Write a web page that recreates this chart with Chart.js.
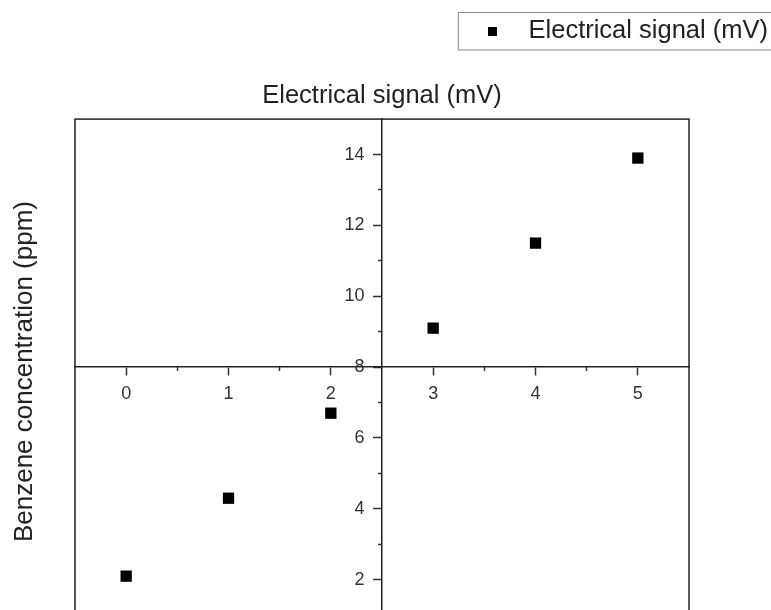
<!DOCTYPE html>
<html>
<head>
<meta charset="utf-8">
<script src="https://cdn.jsdelivr.net/npm/chart.js@4.4.1/dist/chart.umd.min.js"></script>
<style>
  html, body { margin: 0; padding: 0; background: #fff; overflow: hidden; }
  #wrap { width: 771px; height: 644px; }
</style>
</head>
<body>
<div id="wrap"><canvas id="signalChart"></canvas></div>
<script>
// values
const signalMv = [0, 1, 2, 3, 4, 5];
const benzenePpm = [2.1, 4.3, 6.7, 9.1, 11.5, 13.9];
const xTicks = [0, 1, 2, 3, 4, 5];
const xMinorTicks = [0.5, 1.5, 3.5, 4.5];
const yTicks = [2, 4, 6, 8, 10, 12, 14];
const yMinorTicks = [1, 3, 5, 7, 9, 11, 13];

Chart.defaults.font.family = "'Liberation Sans', Arial, sans-serif";
Chart.defaults.color = "#222";

// little black square for the legend
const legendMark = document.createElement("canvas");
legendMark.width = 9;
legendMark.height = 9;
legendMark.getContext("2d").fillRect(0, 0, 9, 9);

const setTicks = list => scale => { scale.ticks = list.map(v => ({ value: v })); };

// box round the plot and round the legend
const framePlugin = {
    id: "frame",
    afterDraw(chart) {
        const { ctx, chartArea: a } = chart;
        ctx.save();
        ctx.strokeStyle = "#222";
        ctx.lineWidth = 1.5;
        ctx.strokeRect(a.left, a.top, a.right - a.left, a.bottom - a.top);
        const hit = chart.legend.legendHitBoxes[0];
        ctx.strokeStyle = "#888";
        ctx.lineWidth = 1;
        ctx.strokeRect(hit.left - 11.5, hit.top - 6, chart.width, hit.height + 12);
        ctx.restore();
    }
};

const minorGrid = { drawOnChartArea: false, drawTicks: true, tickLength: 4, tickColor: "#333", tickWidth: 1.5 };
const majorGrid = { drawOnChartArea: false, drawTicks: true, tickLength: 8, tickColor: "#333", tickWidth: 1.5 };
const noGrid = { display: false, drawTicks: false };

new Chart(document.getElementById("signalChart"), {
    type: "scatter",
    data: {
        datasets: [{
            label: "Electrical signal (mV)",
            data: signalMv.map((x, i) => ({ x: x, y: benzenePpm[i] })),
            xAxisID: "x",
            yAxisID: "y",
            pointStyle: "rect",
            pointRadius: 8,
            pointHoverRadius: 8,
            pointBackgroundColor: "#000",
            pointBorderWidth: 0
        }]
    },
    options: {
        responsive: true,
        maintainAspectRatio: false,
        animation: false,
        layout: { padding: { top: 15.5, left: 0, right: 0, bottom: 20 } },
        plugins: {
            tooltip: { enabled: false },
            legend: {
                position: "top",
                align: "end",
                weight: 1000,
                labels: {
                    usePointStyle: true,
                    pointStyle: legendMark,
                    pointStyleWidth: 46,
                    padding: 3,
                    color: "#222",
                    font: { size: 25.5 }
                }
            },
            title: {
                display: true,
                text: "Electrical signal (mV)",
                fullSize: false,
                weight: 500,
                color: "#222",
                font: { size: 25.5, weight: "normal" },
                padding: { top: 26.5, bottom: 8 }
            }
        },
        scales: {
            x: {
                type: "linear", min: -0.5, max: 5.5,
                position: { y: 8 },
                afterBuildTicks: setTicks(xTicks),
                grid: majorGrid,
                border: { color: "#222", width: 1.5 },
                ticks: { color: "#333", font: { size: 18 }, padding: 8, autoSkip: false, maxRotation: 0 }
            },
            xMinor: {
                type: "linear", axis: "x", min: -0.5, max: 5.5,
                position: { y: 8 },
                afterBuildTicks: setTicks(xMinorTicks),
                grid: minorGrid,
                border: { display: false },
                ticks: { display: false }
            },
            y: {
                type: "linear", min: 0.75, max: 15,
                position: { x: 2.5 },
                afterBuildTicks: setTicks(yTicks),
                grid: majorGrid,
                border: { color: "#222", width: 1.5 },
                ticks: { display: false }
            },
            // labels of the crossing y axis, set a little left of it
            yLabels: {
                type: "linear", axis: "y", min: 0.75, max: 15,
                position: { x: 2.33 },
                afterBuildTicks: setTicks(yTicks),
                grid: noGrid,
                border: { display: false },
                ticks: { color: "#333", font: { size: 18 }, padding: 0, autoSkip: false }
            },
            yMinor: {
                type: "linear", axis: "y", min: 0.75, max: 15,
                position: { x: 2.5 },
                afterBuildTicks: setTicks(yMinorTicks),
                grid: minorGrid,
                border: { display: false },
                ticks: { display: false }
            },
            yLeft: {
                type: "linear", position: "left",
                afterFit: s => { s.width = 75; },
                grid: noGrid,
                border: { display: false },
                ticks: { display: false },
                title: {
                    display: true,
                    text: "Benzene concentration (ppm)",
                    color: "#222",
                    font: { size: 26 },
                    padding: { top: 9, bottom: 0 }
                }
            },
            yRight: {
                type: "linear", position: "right",
                afterFit: s => { s.width = 82; },
                grid: noGrid,
                border: { display: false },
                ticks: { display: false }
            }
        }
    },
    plugins: [framePlugin]
});
</script>
</body>
</html>
